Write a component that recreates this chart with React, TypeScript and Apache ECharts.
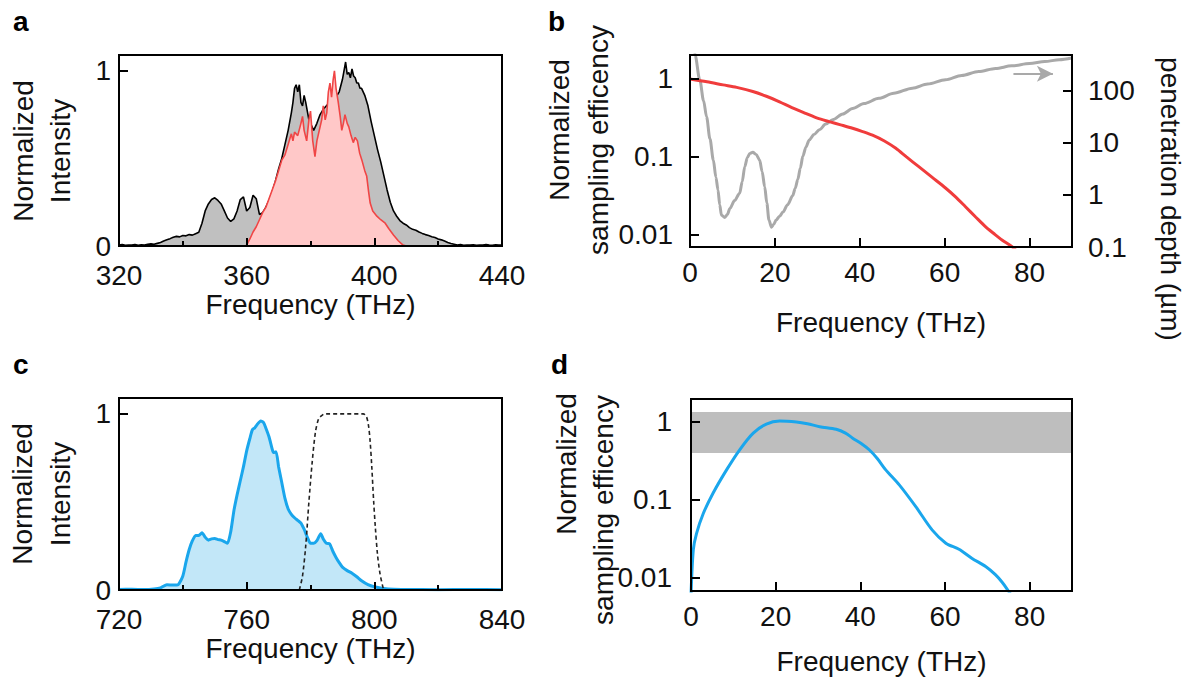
import React, { useEffect, useRef } from "react";
import * as echarts from "echarts";

// ---------- data ----------
// panel a: spectra (THz, normalized intensity)
const aBlack: [number, number][] = [
  [320, 0.005], [321, 0.008], [322, 0.004], [323, 0.006], [324, 0.005], [325, 0.009], [326, 0.004], [327, 0.007],
  [328, 0.006], [329, 0.01], [330, 0.012], [331, 0.01], [332, 0.015], [333, 0.02], [334, 0.028], [335, 0.035],
  [336, 0.042], [337, 0.05], [338, 0.055], [339, 0.052], [340, 0.06], [341, 0.058], [342, 0.065], [343, 0.062],
  [344, 0.07], [345, 0.078], [346, 0.13], [347, 0.2], [348, 0.24], [349, 0.265], [350, 0.275], [351, 0.26],
  [352, 0.24], [353, 0.2], [354, 0.16], [355, 0.14], [356, 0.155], [357, 0.2], [358, 0.265], [359, 0.28],
  [360, 0.2], [361, 0.22], [362, 0.29], [363, 0.27], [364, 0.18], [365, 0.19], [366, 0.22], [367, 0.26],
  [368, 0.31], [369, 0.37], [370, 0.44], [371, 0.5], [372, 0.58], [373, 0.66], [374, 0.76], [374.5, 0.82],
  [375, 0.9], [375.5, 0.92], [376, 0.88], [376.5, 0.92], [377, 0.82], [377.5, 0.8], [378, 0.86], [378.5, 0.82],
  [379, 0.77], [379.5, 0.72], [380, 0.7], [380.5, 0.68], [381, 0.66], [382, 0.7], [383, 0.75], [384, 0.78],
  [385, 0.8], [386, 0.82], [387, 0.8], [388, 0.85], [389, 0.88], [390, 0.95], [390.5, 1.0], [391, 1.05],
  [391.5, 0.98], [392, 0.99], [392.5, 0.96], [393, 1.01], [393.5, 0.97], [394, 0.96], [394.5, 0.93], [395, 0.93],
  [395.5, 0.9], [396, 0.9], [396.5, 0.88], [397, 0.86], [398, 0.8], [399, 0.71], [400, 0.63], [401, 0.55],
  [402, 0.48], [403, 0.4], [404, 0.32], [405, 0.25], [406, 0.2], [407, 0.17], [408, 0.145], [409, 0.13],
  [410, 0.12], [411, 0.105], [412, 0.095], [413, 0.09], [414, 0.08], [415, 0.072], [416, 0.065], [417, 0.06],
  [418, 0.053], [419, 0.048], [420, 0.04], [421, 0.035], [422, 0.028], [423, 0.02], [424, 0.014], [425, 0.01],
  [426, 0.006], [427, 0.008], [428, 0.004], [429, 0.006], [430, 0.005], [431, 0.007], [432, 0.004], [433, 0.006],
  [434, 0.005], [435, 0.008], [436, 0.005], [437, 0.004], [438, 0.007], [439, 0.005], [440, 0.006],
];
const aRed: [number, number][] = [
  [359.5, 0], [360, 0.005], [361, 0.04], [362, 0.08], [363, 0.11], [364, 0.15], [365, 0.19], [366, 0.22],
  [367, 0.27], [368, 0.32], [369, 0.37], [370, 0.43], [371, 0.49], [372, 0.52], [373, 0.58], [374, 0.64],
  [374.5, 0.6], [375, 0.65], [376, 0.63], [377, 0.7], [377.5, 0.74], [378, 0.66], [378.8, 0.6], [379.5, 0.72],
  [380, 0.77], [380.7, 0.6], [381.4, 0.51], [382, 0.6], [383, 0.68], [383.5, 0.72], [384, 0.8], [384.6, 0.72],
  [385.1, 0.76], [385.6, 0.88], [386.1, 0.93], [386.6, 0.85], [387.1, 0.95], [387.5, 1.0], [388, 0.9],
  [388.7, 0.82], [389.3, 0.74], [389.8, 0.66], [390.3, 0.7], [390.8, 0.75], [391.5, 0.7], [392, 0.68],
  [392.7, 0.63], [393.4, 0.59], [394, 0.62], [394.7, 0.6], [395.4, 0.53], [396.1, 0.49], [397, 0.43],
  [397.6, 0.4], [398.2, 0.31], [398.7, 0.245], [399.5, 0.2], [400.8, 0.17], [402, 0.15], [403.4, 0.13],
  [404.5, 0.1], [406, 0.063], [407.5, 0.03], [409, 0.005], [410, 0],
];

// panel b: sampling efficiency (left, log) and penetration depth in µm (right, log)
const bEfficiency: [number, number][] = [
  [0, 1.0], [4, 0.92], [7.8, 0.84], [11, 0.78], [14.8, 0.69], [18, 0.6], [21.1, 0.51], [24, 0.43],
  [27.4, 0.36], [30, 0.315], [32.8, 0.284], [35.5, 0.258], [38.3, 0.233], [40.5, 0.213], [43, 0.19],
  [45.8, 0.16], [48.5, 0.129], [51, 0.1], [53.9, 0.075], [57, 0.055], [60.2, 0.04], [62.5, 0.031],
  [64.9, 0.023], [67.3, 0.017], [69.6, 0.0128], [71.5, 0.0105], [73.5, 0.0086], [75.8, 0.0071], [77, 0.0062],
];
const bDepth: [number, number][] = [
  [0.8, 900], [1.2, 490], [2.3, 163], [3.2, 65], [3.9, 32], [4.7, 12], [5.5, 4.7], [6.1, 2.2], [6.6, 1.25],
  [7.0, 0.65], [7.4, 0.41], [8.2, 0.37], [8.8, 0.42], [9.4, 0.55], [10.5, 0.78], [11.7, 1.08], [12.3, 1.8],
  [12.9, 3.5], [13.5, 5.2], [14.1, 6.3], [14.8, 6.6], [15.6, 6.0], [16.4, 4.7], [17.0, 2.8], [17.6, 1.44],
  [18.1, 0.7], [18.6, 0.33], [19.2, 0.24], [19.7, 0.27], [20.3, 0.33], [21.1, 0.39], [21.9, 0.47], [23, 0.65],
  [24.2, 0.97], [24.8, 1.35], [25.4, 2.0], [26, 3.3], [26.6, 5.6], [27.3, 8.3], [28.1, 11.4], [29.2, 14.5],
  [30.5, 18], [32, 23], [33.6, 28], [36, 36], [38.3, 46], [41, 57], [44.5, 72], [48, 90], [52.4, 113],
  [56, 136], [60.2, 164], [64, 198], [68, 235], [72, 270], [75.8, 303], [80, 335], [83.6, 366], [87, 398], [90, 430],
];
const bArrow: [number, number][] = [[76.2, 213], [85.5, 213]];

// panel c: spectrum and filter
const cBlue: [number, number][] = [
  [720, 0.003], [724, 0.004], [728, 0.003], [731, 0.006], [733, 0.012], [735, 0.03], [737, 0.028], [738.5, 0.03],
  [740, 0.08], [741, 0.16], [742, 0.23], [743, 0.28], [744, 0.31], [745, 0.31], [746, 0.325], [747, 0.3],
  [748, 0.283], [749, 0.29], [750, 0.292], [751, 0.286], [752, 0.283], [753, 0.275], [754, 0.265], [755, 0.33],
  [756, 0.45], [757, 0.54], [758, 0.62], [759, 0.7], [760, 0.79], [761, 0.86], [761.8, 0.91], [762.5, 0.92],
  [763.3, 0.94], [764.4, 0.96], [765.3, 0.95], [766, 0.92], [767, 0.87], [768, 0.8], [768.4, 0.78], [769.2, 0.785],
  [770, 0.7], [771, 0.61], [772, 0.52], [773, 0.46], [774, 0.43], [775, 0.41], [776, 0.395], [777, 0.38],
  [778, 0.345], [779, 0.3], [780, 0.265], [781, 0.265], [782, 0.28], [783.2, 0.32], [784, 0.29], [785, 0.265],
  [786, 0.262], [787, 0.22], [788, 0.185], [789, 0.155], [790, 0.13], [791.5, 0.11], [793, 0.095], [794.5, 0.075],
  [796, 0.052], [798, 0.03], [800, 0.018], [803, 0.008], [806, 0.004], [810, 0.003], [820, 0.002], [830, 0.003], [840, 0.002],
];
const cFilter: [number, number][] = [
  [776.5, 0], [777.5, 0.08], [778.5, 0.25], [779.5, 0.5], [780.5, 0.72], [781.5, 0.89], [782.5, 0.97],
  [783.5, 0.99], [784.5, 1.0], [796.5, 1.0], [797.5, 0.985], [798.2, 0.93], [798.7, 0.84], [799.2, 0.7],
  [799.8, 0.5], [800.3, 0.36], [801, 0.2], [801.8, 0.09], [802.9, 0],
];

// panel d: sampling efficiency and acceptance band
const dEfficiency: [number, number][] = [
  [0, 0.006], [0.55, 0.023], [1.3, 0.037], [2.9, 0.067], [5.2, 0.122], [8.4, 0.243], [11.5, 0.44], [14.7, 0.72],
  [17.8, 0.94], [20.9, 1.03], [24.9, 1.0], [27.5, 0.95], [30.4, 0.87], [34.3, 0.805], [36.5, 0.72], [38.2, 0.62],
  [40.2, 0.53], [42.1, 0.44], [44, 0.34], [46, 0.243], [49.2, 0.156], [53.1, 0.082], [57, 0.041], [60.2, 0.0279],
  [63.3, 0.0233], [66.4, 0.0178], [69.6, 0.014], [71.9, 0.011], [73.5, 0.0088], [74.9, 0.0069], [75.5, 0.0062],
];
const dBand: [number, number] = [0.4, 1.34];

// ---------- styling ----------
const FONT = "'Liberation Sans', Arial, Helvetica, sans-serif";
const INK = "#111";
const axisLine = { show: true, onZero: false, lineStyle: { color: "#000", width: 2 } };
const tick = (len: number) => ({ show: true, inside: true, length: len, lineStyle: { color: "#000", width: 2 } });
const lbl = (margin: number, extra: any = {}) => ({ color: INK, fontSize: 28, fontFamily: FONT, margin, ...extra });
const nameStyle = { color: INK, fontSize: 28, fontFamily: FONT };
const logFmt = (v: number) => String(parseFloat(Number(v).toPrecision(2)));

const grids = [
  { left: 119, top: 55, width: 383, height: 191 },
  { left: 690, top: 55, width: 382, height: 192 },
  { left: 119, top: 398, width: 383, height: 192 },
  { left: 691, top: 399, width: 381, height: 192 },
].map((g) => ({ ...g, show: true, borderColor: "#000", borderWidth: 2, backgroundColor: "transparent", z: 10 }));

const specX = (idx: number, min: number, labelMargin: number, gap: number) => ({
  gridIndex: idx, type: "value", min, max: min + 120, interval: 40, z: 10,
  axisLine, axisTick: tick(8),
  minorTick: { show: true, splitNumber: 2, length: 5, lineStyle: { color: "#000", width: 2 } },
  splitLine: { show: false }, minorSplitLine: { show: false },
  axisLabel: lbl(labelMargin),
  name: "Frequency (THz)", nameLocation: "middle", nameGap: gap, nameMoveOverlap: false, nameTextStyle: nameStyle,
});
const freqX = (idx: number, labelMargin: number, gap: number) => ({
  gridIndex: idx, type: "value", min: 0, max: 90, interval: 20, z: 10,
  axisLine, axisTick: tick(9), splitLine: { show: false },
  axisLabel: lbl(labelMargin, { showMaxLabel: false }),
  name: "Frequency (THz)", nameLocation: "middle", nameGap: gap, nameMoveOverlap: false, nameTextStyle: nameStyle,
});
const specY = (idx: number) => ({
  gridIndex: idx, type: "value", min: 0, max: 1.09, interval: 1, z: 10,
  axisLine, axisTick: tick(9), splitLine: { show: false },
  axisLabel: lbl(8, { showMaxLabel: false }),
});
const logY = (idx: number, min: number, max: number, pos: string, margin: number, showMin: boolean) => ({
  gridIndex: idx, type: "log", logBase: 10, min, max, position: pos, z: 10,
  axisLine, axisTick: tick(9), splitLine: { show: false }, minorTick: { show: false },
  axisLabel: lbl(margin, { showMinLabel: showMin, showMaxLabel: false, formatter: logFmt }),
});

const vText = (text: string, x: number, y: number, rot = Math.PI / 2) => ({
  type: "text", x, y, rotation: rot, z: 20,
  style: { text, fill: INK, font: `28px ${FONT}`, align: "center", verticalAlign: "middle" },
});
const letter = (text: string, x: number, y: number) => ({
  type: "text", x, y, z: 20,
  style: { text, fill: "#000", font: `bold 28px ${FONT}`, align: "left", verticalAlign: "middle" },
});

const option: any = {
  animation: false,
  backgroundColor: "#fff",
  grid: grids,
  xAxis: [specX(0, 320, 15, 44), freqX(1, 11, 61), specX(2, 720, 15, 44), freqX(3, 11, 56)],
  yAxis: [
    specY(0),
    logY(1, 0.007, 2.03, "left", 17, false),
    logY(1, 0.1, 490, "right", 16, true),
    specY(2),
    logY(3, 0.0068, 1.97, "left", 19, false),
  ],
  series: [
    {
      type: "line", xAxisIndex: 0, yAxisIndex: 0, data: aBlack, showSymbol: false, z: 2,
      lineStyle: { color: "#000", width: 1.6 }, areaStyle: { color: "#c0c0c0", opacity: 1 },
    },
    {
      type: "line", xAxisIndex: 0, yAxisIndex: 0, data: aRed, showSymbol: false, z: 3,
      lineStyle: { color: "#f04545", width: 1.6 }, areaStyle: { color: "#ffc8c8", opacity: 1 },
    },
    {
      type: "line", xAxisIndex: 1, yAxisIndex: 2, data: bDepth, showSymbol: false, z: 2,
      smooth: 0.3, smoothMonotone: "x",
      lineStyle: { color: "#a9a9a9", width: 3 },
      markLine: {
        silent: true, symbol: ["none", "arrow"], symbolSize: [12, 16],
        lineStyle: { color: "#a9a9a9", width: 2, type: "solid" }, label: { show: false },
        data: [[{ coord: bArrow[0] }, { coord: bArrow[1] }]],
      },
    },
    {
      type: "line", xAxisIndex: 1, yAxisIndex: 1, data: bEfficiency, showSymbol: false, z: 3,
      smooth: 0.3, lineStyle: { color: "#f03c3c", width: 3 },
    },
    {
      type: "line", xAxisIndex: 2, yAxisIndex: 3, data: cBlue, showSymbol: false, z: 2,
      smooth: 0.2, lineStyle: { color: "#1aa6ec", width: 3 }, areaStyle: { color: "#c2e7f8", opacity: 1 },
    },
    {
      type: "line", xAxisIndex: 2, yAxisIndex: 3, data: cFilter, showSymbol: false, z: 3,
      smooth: 0.3, lineStyle: { color: "#222", width: 1.6, type: [4, 3] },
    },
    {
      type: "line", xAxisIndex: 3, yAxisIndex: 4, data: dEfficiency, showSymbol: false, z: 3,
      smooth: 0.3, lineStyle: { color: "#1aa6ec", width: 3 },
      markArea: {
        silent: true, itemStyle: { color: "#bebebe", opacity: 1 },
        data: [[{ yAxis: dBand[0] }, { yAxis: dBand[1] }]],
      },
    },
  ],
  graphic: [
    letter("a", 13, 21),
    letter("b", 548, 21),
    letter("c", 13, 364),
    letter("d", 551, 364),
    vText("Normalized", 23, 151),
    vText("Intensity", 60, 151),
    vText("Normalized", 559, 130),
    vText("sampling efficency", 598, 140),
    vText("penetration depth (\u00b5m)", 1170, 199, -Math.PI / 2),
    vText("Normalized", 22, 494),
    vText("Intensity", 60, 494),
    vText("Normalized", 566, 464),
    vText("sampling efficency", 603, 510),
  ],
};

export default function App() {
  const ref = useRef<HTMLDivElement>(null);
  useEffect(() => {
    const chart = echarts.init(ref.current!, null, { renderer: "svg" });
    chart.setOption(option);
    return () => chart.dispose();
  }, []);
  return (
    <div
      ref={ref}
      style={{ position: "fixed", left: 0, top: 0, width: 1193, height: 686, background: "#fff" }}
    />
  );
}
